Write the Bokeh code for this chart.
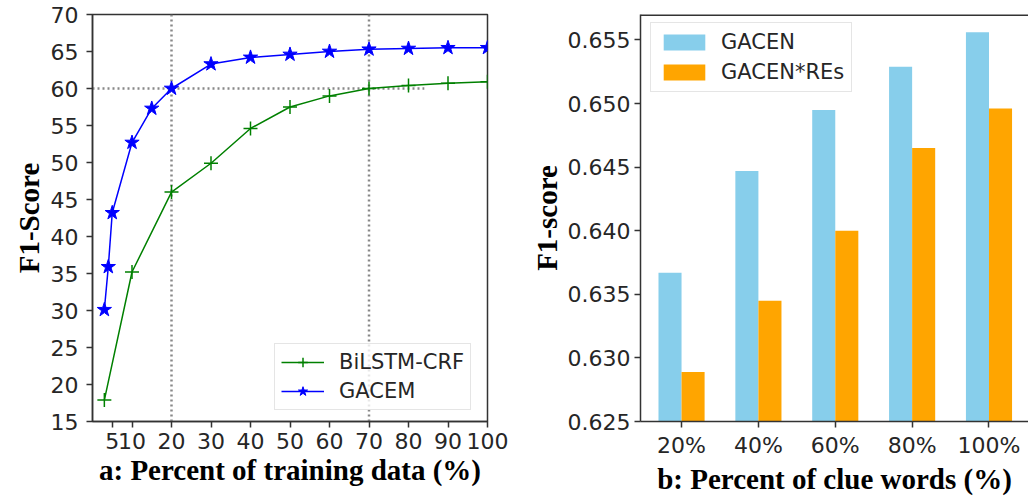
from bokeh.plotting import figure
from bokeh.layouts import row
from bokeh.models import FixedTicker, Span, Range1d, NumeralTickFormatter
from bokeh.embed import file_html
from bokeh.resources import INLINE
import numpy as np

# ---------------- Panel a: F1 vs percent of training data ----------------
gacem_pct = [3, 4, 5, 10, 15, 20, 30, 40, 50, 60, 70, 80, 90, 100]
gacem_f1 = [30.1, 35.9, 43.2, 52.7, 57.3, 60.0, 63.3, 64.2, 64.6, 65.0, 65.3, 65.4, 65.5, 65.5]
bilstm_pct = [3, 10, 20, 30, 40, 50, 60, 70, 80, 90, 100]
bilstm_f1 = [17.9, 35.2, 46.0, 49.9, 54.6, 57.5, 59.0, 60.0, 60.4, 60.7, 60.9]
x_ticks_a = [5, 10, 20, 30, 40, 50, 60, 70, 80, 90, 100]
y_ticks_a = [15, 20, 25, 30, 35, 40, 45, 50, 55, 60, 65, 70]
guide_x = [20, 70]
guide_y = 60
guide_y_x = [0, 84]

# ---------------- Panel b: F1 vs percent of clue words ----------------
clue_cats = ["20%", "40%", "60%", "80%", "100%"]
gacen = [0.6367, 0.6447, 0.6495, 0.6529, 0.6556]
gacen_res = [0.6289, 0.6345, 0.6400, 0.6465, 0.6496]
y_ticks_b = [0.625, 0.630, 0.635, 0.640, 0.645, 0.650, 0.655]
y_range_b = (0.625, 0.657)

TICK_FONT = "DejaVu Sans"
LABEL_FONT = "Liberation Serif"
AX_COLOR = "#333333"
TXT_COLOR = "#262626"


def style_axes(p, xlabel, ylabel, ytick_standoff, ylabel_standoff):
    for ax in (p.xaxis[0], p.yaxis[0]):
        ax.axis_line_color = AX_COLOR
        ax.axis_line_width = 1.5
        ax.major_tick_line_color = AX_COLOR
        ax.major_tick_line_width = 1.5
        ax.major_tick_out = 6
        ax.major_tick_in = 0
        ax.minor_tick_line_color = None
        ax.major_label_text_font = TICK_FONT
        ax.major_label_text_font_size = "22px"
        ax.major_label_text_color = TXT_COLOR
        ax.axis_label_text_font = LABEL_FONT
        ax.axis_label_text_font_style = "bold"
        ax.axis_label_text_font_size = "29px"
        ax.axis_label_text_color = "black"
    xa = p.xaxis[0]
    xa.axis_label = xlabel
    xa.major_label_standoff = 5
    xa.axis_label_standoff = 2
    p.yaxis[0].axis_label = ylabel
    p.yaxis[0].major_label_standoff = ytick_standoff
    p.yaxis[0].axis_label_standoff = ylabel_standoff
    p.xgrid.visible = False
    p.ygrid.visible = False


# ---------------- figure a ----------------
p1 = figure(width=527, height=497, x_range=Range1d(0, 100), y_range=Range1d(15, 70),
            output_backend="svg", toolbar_location=None,
            min_border_left=92, min_border_right=40, min_border_top=14, min_border_bottom=74)
p1.outline_line_color = AX_COLOR
p1.outline_line_width = 1.5
style_axes(p1, "a: Percent of training data (%)", "F1-Score", 8, 3)
p1.xaxis[0].ticker = FixedTicker(ticks=x_ticks_a)
p1.yaxis[0].ticker = FixedTicker(ticks=y_ticks_a)

for gx in guide_x:
    p1.add_layout(Span(location=gx, dimension="height", line_color="#888888",
                       line_dash="2 3", line_width=2.5, level="underlay"))
p1.line(x=guide_y_x, y=[guide_y, guide_y], line_color="#888888", line_dash="2 3", line_width=2.5)

p1.line(bilstm_pct, bilstm_f1, line_color="green", line_width=1.5, legend_label="BiLSTM-CRF")
p1.scatter(bilstm_pct, bilstm_f1, marker="cross", size=14, line_color="green", line_width=1.5,
           legend_label="BiLSTM-CRF")
p1.line(gacem_pct, gacem_f1, line_color="blue", line_width=1.5, legend_label="GACEM")
p1.scatter(gacem_pct, gacem_f1, marker="star", size=15, line_color="blue", fill_color="blue",
           legend_label="GACEM")

lg1 = p1.legend[0]
lg1.location = (182, 11)
lg1.label_text_font = TICK_FONT
lg1.label_text_font_size = "21px"
lg1.label_text_color = TXT_COLOR
lg1.glyph_width = 43
lg1.glyph_height = 24
lg1.label_height = 24
lg1.label_standoff = 15
lg1.spacing = 5
lg1.padding = 6
lg1.margin = 0
lg1.border_line_color = "#cccccc"
lg1.border_line_width = 1
lg1.background_fill_alpha = 0.8

# ---------------- figure b ----------------
idx = np.arange(len(clue_cats))
bw = 0.3
p2 = figure(width=501, height=497, x_range=Range1d(-0.534, 4.514), y_range=Range1d(*y_range_b),
            output_backend="svg", toolbar_location=None,
            min_border_left=111, min_border_right=0, min_border_top=14, min_border_bottom=74)
# frame outline kept white so only the axis lines / top spine show
p2.outline_line_color = "white"
p2.outline_line_width = 1
style_axes(p2, "b: Percent of clue words (%)", "F1-score", 4, 2)
p2.xaxis[0].ticker = FixedTicker(ticks=list(idx))
p2.xaxis[0].major_label_overrides = {int(i): c for i, c in zip(idx, clue_cats)}
p2.yaxis[0].ticker = FixedTicker(ticks=y_ticks_b)
p2.yaxis[0].formatter = NumeralTickFormatter(format="0.000")

# top spine only (the right spine is outside the picture in the reference)
p2.add_layout(Span(location=y_range_b[1], dimension="width", line_color=AX_COLOR, line_width=3))

p2.vbar(x=idx - bw / 2, top=gacen, bottom=0.6, width=bw, fill_color="#87ceeb",
        line_color=None, legend_label="GACEN")
p2.vbar(x=idx + bw / 2, top=gacen_res, bottom=0.6, width=bw, fill_color="#ffa500",
        line_color=None, legend_label="GACEN*REs")

lg2 = p2.legend[0]
lg2.location = (10, 329)
lg2.label_text_font = TICK_FONT
lg2.label_text_font_size = "21px"
lg2.label_text_color = TXT_COLOR
lg2.glyph_width = 52
lg2.glyph_height = 20
lg2.label_height = 24
lg2.label_standoff = 11
lg2.spacing = 6
lg2.padding = 7
lg2.margin = 0
lg2.border_line_color = "#cccccc"
lg2.border_line_width = 1
lg2.background_fill_alpha = 0.8

layout = row(p1, p2)
open("out.html", "w").write(file_html(layout, INLINE))
